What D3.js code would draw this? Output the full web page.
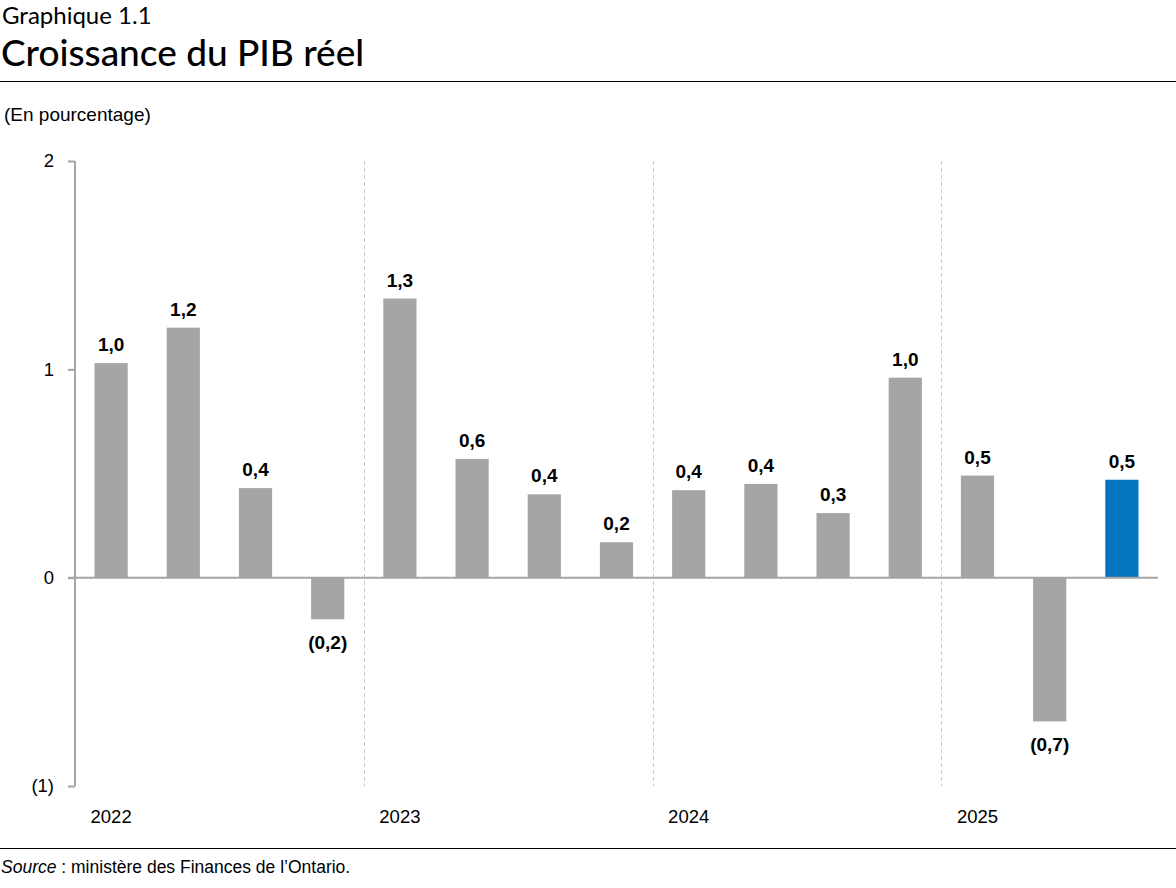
<!DOCTYPE html>
<html><head><meta charset="utf-8">
<script src="https://cdn.jsdelivr.net/npm/d3@7"></script>
<style>body{margin:0;background:#fff}svg{display:block}</style>
</head><body>
<script>
const quarters = ["2022T1","2022T2","2022T3","2022T4","2023T1","2023T2","2023T3","2023T4","2024T1","2024T2","2024T3","2024T4","2025T1","2025T2","2025T3"];
const values = [1.03,1.20,0.43,-0.20,1.34,0.57,0.40,0.17,0.42,0.45,0.31,0.96,0.49,-0.69,0.47];
const labels = ["1,0","1,2","0,4","(0,2)","1,3","0,6","0,4","0,2","0,4","0,4","0,3","1,0","0,5","(0,7)","0,5"];
const years = ["2022","2023","2024","2025"];
const yTicks = [-1,0,1,2];
const yTickLabels = ["(1)","0","1","2"];
const highlight = [false,false,false,false,false,false,false,false,false,false,false,false,false,false,true];

const W=1176,H=888;
const svg=d3.select("body").append("svg").attr("width",W).attr("height",H);
const sans="'Liberation Sans', Arial, sans-serif";
const narrow="'Liberation Sans Narrow','Arial Narrow','Liberation Sans',sans-serif";
const titleF="Lato,'Open Sans',sans-serif";

svg.append("text").attr("x",2).attr("y",24).attr("font-family",titleF).attr("font-size",24).attr("fill","#000").text("Graphique 1.1");
svg.append("text").attr("x",1).attr("y",66).attr("font-family",titleF).attr("font-size",37).attr("font-weight",500).attr("fill","#000").text("Croissance du PIB réel");
svg.append("line").attr("x1",0).attr("x2",W).attr("y1",81.5).attr("y2",81.5).attr("stroke","#000").attr("stroke-width",1);
svg.append("text").attr("x",4).attr("y",121).attr("font-family",sans).attr("font-size",19).attr("fill","#000").text("(En pourcentage)");

const x=d3.scaleBand().domain(quarters).range([75,1158]).paddingInner(0.54).paddingOuter(0.27);
const y=d3.scaleLinear().domain([-1,2]).range([786,161]);

// year separators
const yearStarts=[4,8,12];
yearStarts.forEach(i=>{
  const xs=x(quarters[i])-x.step()*x.paddingInner()/2;
  svg.append("line").attr("x1",Math.round(xs)+0.5).attr("x2",Math.round(xs)+0.5).attr("y1",y(2)).attr("y2",y(-1))
    .attr("stroke","#c8c8c8").attr("stroke-width",1).attr("stroke-dasharray","4,3");
});

// bars
svg.selectAll("rect.bar").data(values).join("rect").attr("class","bar")
  .attr("x",(d,i)=>x(quarters[i])).attr("width",x.bandwidth())
  .attr("y",d=>y(Math.max(0,d))).attr("height",d=>Math.abs(y(d)-y(0)))
  .attr("fill",(d,i)=>highlight[i]?"#0575c0":"#a5a5a5");

// y axis
const ax=svg.append("g").attr("transform","translate(75,0)").call(d3.axisLeft(y).tickValues(yTicks).tickFormat((d,i)=>yTickLabels[i]).tickSize(7).tickPadding(14));
ax.select(".domain").attr("stroke","#a5a5a5").attr("stroke-width",2).attr("d","M0,"+y(2)+"V"+y(-1));
ax.selectAll(".tick line").attr("stroke","#a5a5a5").attr("stroke-width",2);
ax.selectAll(".tick text").attr("font-family",sans).attr("font-size",18.5).attr("fill","#000");

// zero line
svg.append("line").attr("x1",68).attr("x2",1158).attr("y1",y(0)).attr("y2",y(0)).attr("stroke","#a5a5a5").attr("stroke-width",2);

// labels
svg.selectAll("text.lab").data(values).join("text").attr("class","lab")
  .attr("x",(d,i)=>x(quarters[i])+x.bandwidth()/2)
  .attr("y",d=>d>=0?y(d)-12:y(d)+30)
  .attr("text-anchor","middle").attr("font-family",narrow).attr("font-weight","bold").attr("font-size",19).attr("fill","#000")
  .text((d,i)=>labels[i]);

// year labels
years.forEach((yr,k)=>{
  svg.append("text").attr("x",x(quarters[k*4])+x.bandwidth()/2).attr("y",823).attr("text-anchor","middle")
    .attr("font-family",sans).attr("font-size",18.5).attr("fill","#000").text(yr);
});

svg.append("line").attr("x1",0).attr("x2",W).attr("y1",848.5).attr("y2",848.5).attr("stroke","#000").attr("stroke-width",1);
const src=svg.append("text").attr("x",1).attr("y",873).attr("font-family",sans).attr("font-size",17.5).attr("fill","#000");
src.append("tspan").attr("font-style","italic").text("Source");
src.append("tspan").text(" : ministère des Finances de l’Ontario.");
</script>
</body></html>
